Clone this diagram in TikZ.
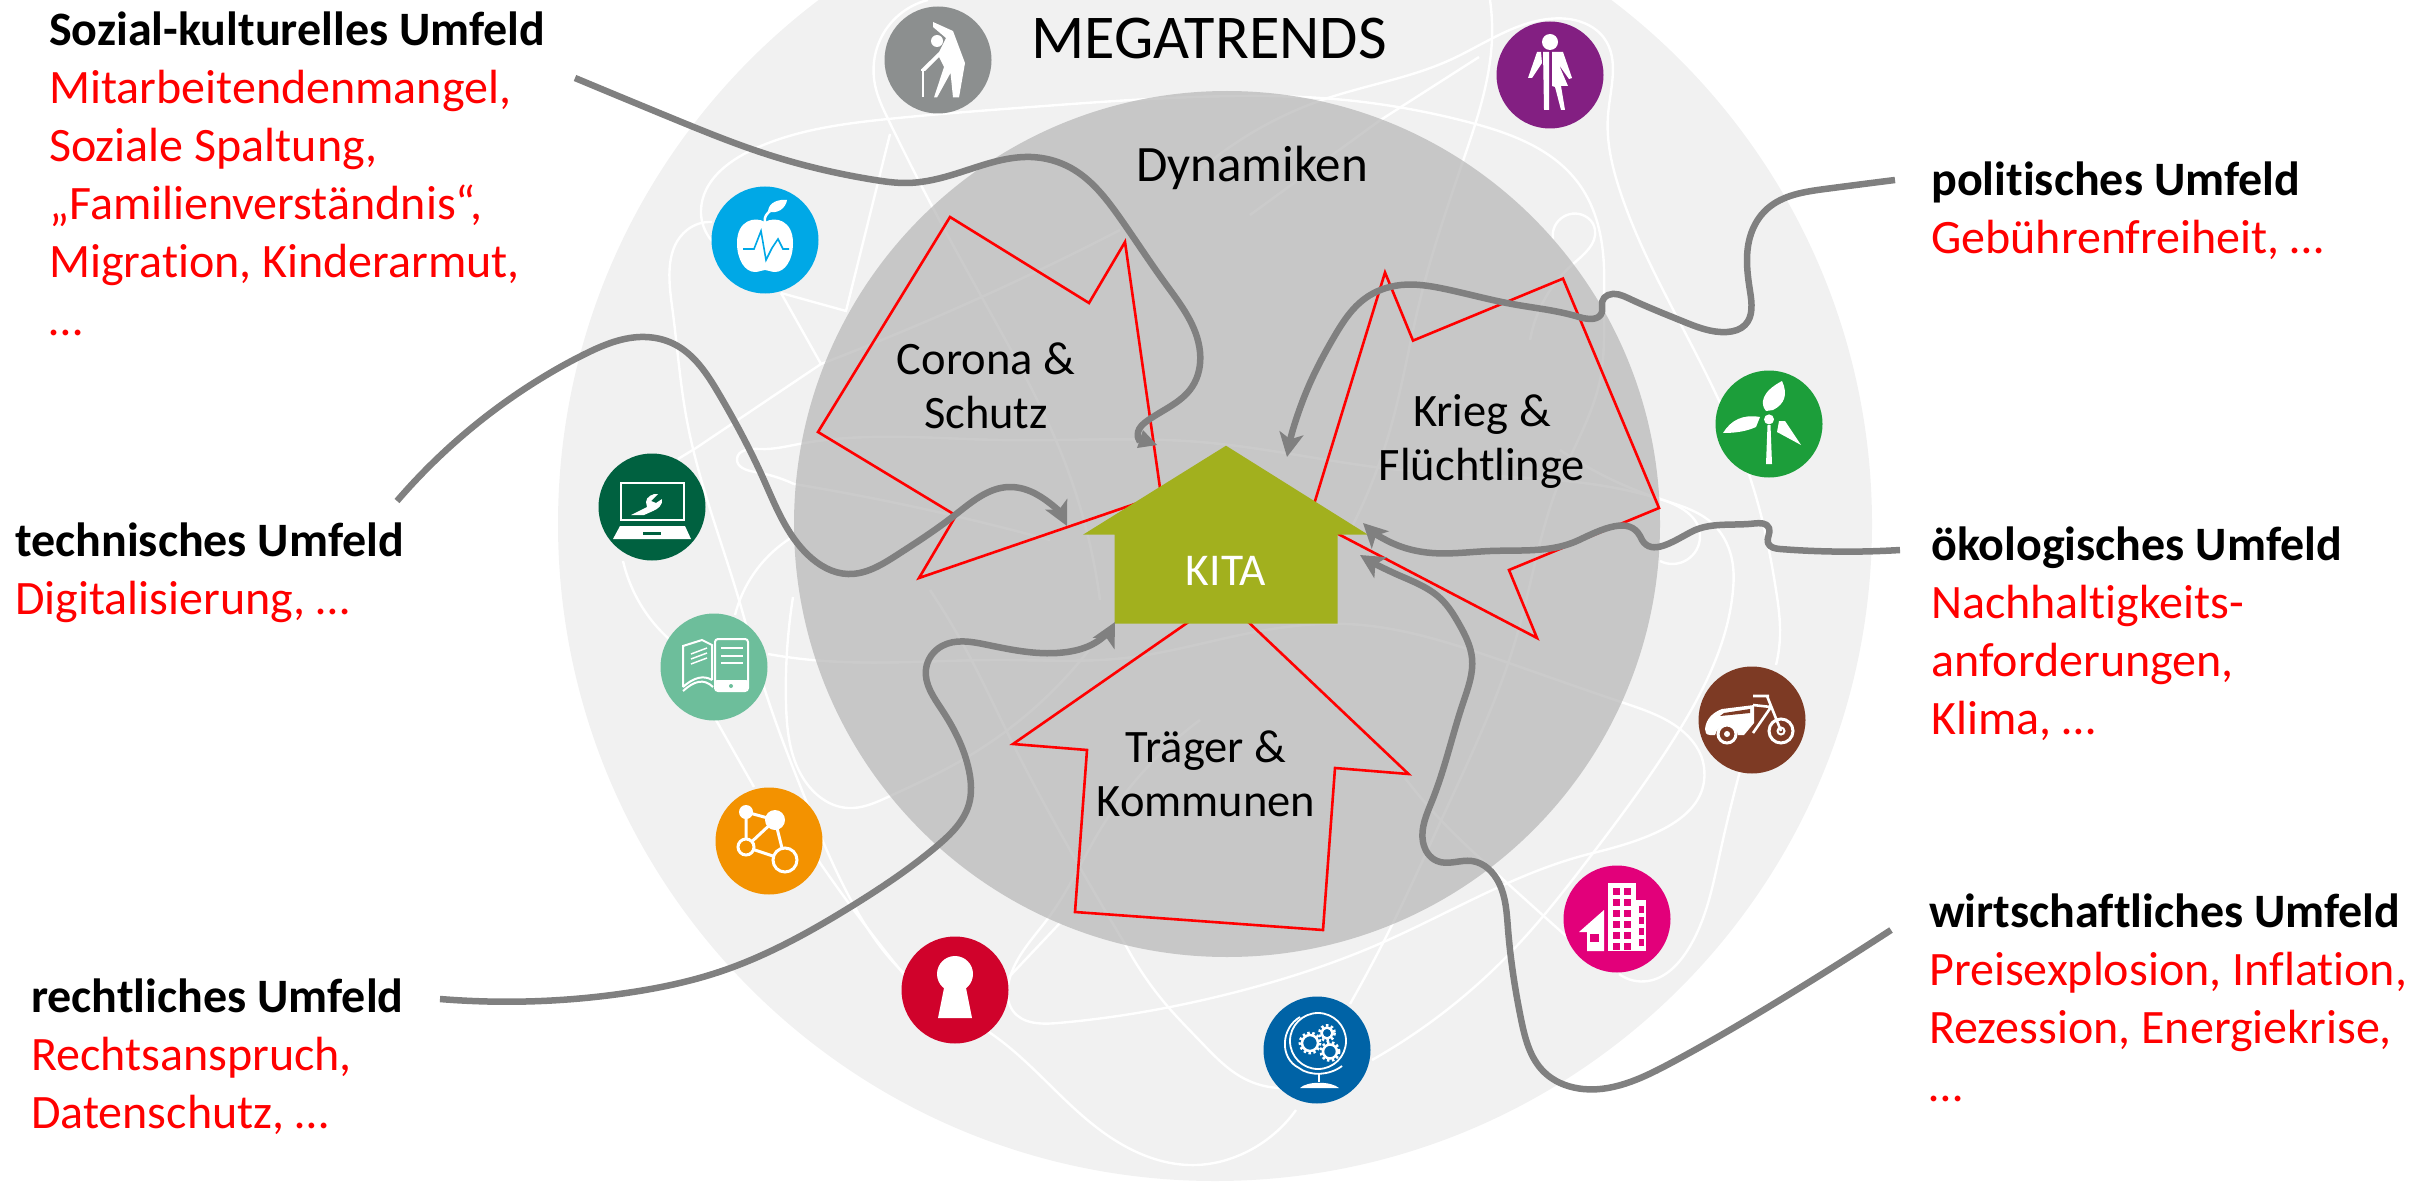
\documentclass[tikz,border=0pt]{standalone}
\usepackage{fontspec}
\setmainfont{Carlito}[Ligatures=NoCommon]
\usetikzlibrary{arrows.meta,hobby}
\definecolor{outerc}{HTML}{F1F1F1}
\definecolor{innerc}{HTML}{B6B6B6}
\definecolor{trendc}{HTML}{808080}
\definecolor{housec}{HTML}{A2B01E}
\definecolor{ielder}{HTML}{8C8F8F}
\definecolor{iapple}{HTML}{00A8E6}
\definecolor{ilaptop}{HTML}{006140}
\definecolor{ibook}{HTML}{6DBE9B}
\definecolor{inet}{HTML}{F39200}
\definecolor{ikey}{HTML}{D0022B}
\definecolor{iglobe}{HTML}{0063A6}
\definecolor{ibuild}{HTML}{E2007A}
\definecolor{ibike}{HTML}{7D3A24}
\definecolor{iwind}{HTML}{1C9E3A}
\definecolor{iperson}{HTML}{831F82}
\newcommand\wcurve[1]{\draw[whiteline] plot[hobby] coordinates {#1};}
\tikzset{
  whiteline/.style={white,line width=2.4pt},
  trend/.style={trendc,line width=6.5pt,line join=round},
  trendarrow/.style={trend,-{Stealth[length=24pt,width=24pt,inset=6pt]}},
  dynpoly/.style={draw=red,line width=2.6pt,line join=miter},
  umfeld/.style={anchor=north west,inner sep=0pt,align=left,font=\fontsize{48}{58}\selectfont},
  topic/.style={inner sep=0pt,align=center,font=\fontsize{46.5}{54}\selectfont},
  iconc/.style={circle,minimum size=107pt,inner sep=0pt},
}
\begin{document}
\begin{tikzpicture}[x=1pt,y=-1pt]
\useasboundingbox (0,0) rectangle (2419,1182);
\begin{scope}
\clip (0,0) rectangle (2419,1182);
\fill[outerc] (1215,524) circle[radius=657];
% white web of trend lines
\wcurve{(928,0) (880,40) (875,85) (888,119) (933,208) (1000,330) (1060,450) (1100,600)}
\wcurve{(712,241) (701,210) (754,149) (888,119) (1031,107) (1240,96) (1334,99) (1468,122) (1579,184) (1604,268) (1604,300) (1600,380) (1560,480) (1517,635) (1445,812) (1392,925) (1350,1004)}
\draw[whiteline] (781,293) -- (846,311) -- (890,134);
\draw[whiteline] (781,293) -- (821,364) -- (696,448) -- (678,459);
\wcurve{(821,364) (986,295) (1120,230)}
\wcurve{(712,222) (687,230) (672,306) (687,421) (739,600) (763,684) (803,793) (852,902) (906,975) (1000,1040) (1100,1130) (1196,1165) (1240,1155) (1296,1110)}
\wcurve{(623,561) (638,600) (669,639)}
\wcurve{(716,720) (754,787)}
\wcurve{(818,860) (865,925) (906,977)}
\wcurve{(794,484) (755,472) (737,459) (760,449) (799,444) (1000,440) (1200,442) (1400,470) (1660,499) (1700,536) (1660,561)}
\wcurve{(794,484) (942,513) (1050,540)}
\wcurve{(794,536) (741,597) (735,615)}
\wcurve{(793,597) (786,703) (803,778) (848,808) (888,797) (964,759) (1089,650)}
\wcurve{(768,654) (812,660) (1000,660) (1125,658) (1240,635) (1347,624) (1503,661) (1624,703) (1680,729) (1704,767) (1593,853) (1379,944) (1240,991) (1058,1023) (1013,1011) (1009,981) (1049,917) (1100,830) (1200,720)}
\draw[whiteline] (1060,923) -- (1009,977);
\wcurve{(1125,944) (1169,1008) (1200,1041) (1245,1079) (1280,1088)}
\wcurve{(1125,944) (1070,850) (1013,744) (964,646) (930,590)}
\wcurve{(1372,1060) (1512,951) (1593,853) (1680,729) (1733,590) (1733,566) (1713,524) (1660,499) (1560,450)}
\wcurve{(1405,778) (1437,816) (1495,872) (1566,936)}
\wcurve{(1619,974) (1648,981) (1687,951) (1720,853) (1740,771)}
\wcurve{(1776,665) (1780,635) (1776,590) (1754,490) (1691,344) (1620,191) (1608,115) (1604,38) (1584,23) (1548,19) (1450,60) (1325,99) (1200,170)}
\wcurve{(1490,0) (1492,38) (1463,161) (1420,300) (1390,430) (1345,540)}
\draw[whiteline] (1479,57) -- (1379,121) -- (1250,215);
\wcurve{(1553,239) (1588,218) (1595,230) (1573,264) (1530,340)}
% Dynamiken circle
\fill[innerc,fill opacity=0.7] (1227,524) circle[radius=433];
\end{scope}
% red arrows behind the house
\draw[dynpoly] (950,217) -- (1089,303) -- (1125,242) -- (1161,495) -- (919,578) -- (956,515.5) -- (818,432) -- cycle;
\draw[dynpoly] (1385,272.5) -- (1413,340.6) -- (1563,278.6) -- (1659,508) -- (1509,570) -- (1537,638) -- (1309.5,519) -- cycle;
\draw[dynpoly] (1223,598) -- (1013,744) -- (1087,750) -- (1075,912) -- (1323,930) -- (1335,768) -- (1408.5,774) -- cycle;
% house
\fill[housec] (1226,445.7) -- (1368,534.7) -- (1337.7,534.7) -- (1337.7,623.7) -- (1114.7,623.7) -- (1114.7,534.7) -- (1083,534.7) -- cycle;
\node[inner sep=0pt,text=white,font=\fontsize{45.5}{54}\selectfont] (kita) at (1226,571) {KITA};
% texts
\node[inner sep=0pt,font=\fontsize{62.3}{70}\selectfont] (mega) at (1209,39) {MEGATRENDS};
\node[topic,font=\fontsize{51}{54}\selectfont] (dyn) at (1252,168) {Dynamiken};
\node[topic] (corona) at (986,386) {Corona \&\\Schutz};
\node[topic] (krieg) at (1482,441) {Krieg \&\\Flüchtlinge};
\node[topic] (traeger) at (1206,774) {Träger \&\\Kommunen};
\node[umfeld] (sozial) at (49,12) {\textbf{Sozial-kulturelles Umfeld}\\\textcolor{red}{Mitarbeitendenmangel,}\\\textcolor{red}{Soziale Spaltung,}\\\textcolor{red}{„Familienverständnis“,}\\\textcolor{red}{Migration, Kinderarmut,}\\\textcolor{red}{…}};
\node[umfeld] (techn) at (15,523) {\textbf{technisches Umfeld}\\\textcolor{red}{Digitalisierung, …}};
\node[umfeld] (recht) at (31,979) {\textbf{rechtliches Umfeld}\\\textcolor{red}{Rechtsanspruch,}\\\textcolor{red}{Datenschutz, …}};
\node[umfeld] (polit) at (1931,162) {\textbf{politisches Umfeld}\\\textcolor{red}{Gebührenfreiheit, …}};
\node[umfeld] (oeko) at (1931,527) {\textbf{ökologisches Umfeld}\\\textcolor{red}{Nachhaltigkeits-}\\\textcolor{red}{anforderungen,}\\\textcolor{red}{Klima, …}};
\node[umfeld] (wirt) at (1929,894) {\textbf{wirtschaftliches Umfeld}\\\textcolor{red}{Preisexplosion, Inflation,}\\\textcolor{red}{Rezession, Energiekrise,}\\\textcolor{red}{…}};
% icons
\node[iconc,fill=ielder] (elder) at (938,60) {};
\begin{scope}[shift={(elder.center)}]
\fill[white] (-1,-19) circle[radius=6];
\fill[white] (-5,-38) -- (15,-29) -- (27,3) -- (21,37.5) -- (15,37.5) -- (12.5,13) -- (-1,37.5) -- (-4,37.5) -- (6,7) -- (1,-3) -- (-13,11) -- (-16.5,9) -- (1,-8) -- (8,-22) -- (-5,-33) -- cycle;
\draw[white,line width=2.5pt] (-17,10) -- (-13,10) (-15,10) -- (-15,37);
\end{scope}
\node[iconc,fill=iapple] (apple) at (765,240) {};
\begin{scope}[shift={(apple.center)}]
\fill[white] (0,-18) .. controls (10,-24) and (28,-20) .. (28,3) .. controls (28,20) and (20,32) .. (10,32) .. controls (5,32) and (4,30) .. (0,30) .. controls (-4,30) and (-5,32) .. (-10,32) .. controls (-20,32) and (-28,20) .. (-28,3) .. controls (-28,-20) and (-10,-24) .. (0,-18) -- cycle;
\draw[white,line width=2.5pt] (0,-18) .. controls (-1,-24) and (2,-26) .. (5,-29);
\fill[white] (3,-29) .. controls (4,-38) and (14,-41) .. (22,-40) .. controls (21,-32) and (12,-25) .. (3,-29) -- cycle;
\draw[iapple,line width=1.6pt] (-22,9) -- (-11,9) -- (-4,-9) -- (1,20) -- (7,8) -- (13,-1) -- (18,9) -- (24,9);
\end{scope}
\node[iconc,fill=ilaptop] (laptop) at (652,507) {};
\begin{scope}[shift={(laptop.center)}]
\draw[white,line width=2.4pt] (-31,-24) rectangle (32,13);
\fill[white] (-32,19) -- (33,19) -- (39,32) -- (-39,32) -- cycle;
\fill[ilaptop] (-9,25) rectangle (9,28);
\fill[white] (-21,8) -- (-8,8) -- (1,4) .. controls (6,2) and (11,-2) .. (10,-8) -- (4,-4) -- (-1,-6) -- (6,-13) .. controls (1,-14) and (-6,-10) .. (-6,-5) -- (-5,0) -- cycle;
\end{scope}
\node[iconc,fill=ibook] (book) at (714,667) {};
\begin{scope}[shift={(book.center)}]
\draw[white,line width=2pt] (-31,20) -- (-31,-21) -- (-12,-27) -- (-2,-22) -- (-2,13) (-31,20) .. controls (-20,10) and (-10,8) .. (-2,13);
\draw[white,line width=2pt] (-31,24) .. controls (-20,14) and (-10,11) .. (-1,20);
\draw[white,line width=1.5pt] (-23,-13) -- (-7,-19) (-23,-8) -- (-7,-14) (-23,-3) -- (-7,-9);
\draw[white,line width=2pt,rounded corners=3pt] (1,-28) rectangle (34,24);
\fill[white,rounded corners=2pt] (1,13) rectangle (34,24);
\fill[ibook] (17,19) circle[radius=2];
\draw[white,line width=2pt] (7,-19) -- (29,-19) (7,-11) -- (29,-11) (7,-4) -- (29,-4);
\end{scope}
\node[iconc,fill=inet] (net) at (769,841) {};
\begin{scope}[shift={(net.center)}]
\draw[white,line width=3pt] (-23,-29) -- (6,-21) -- (-23,6) -- cycle (6,-21) -- (16,19) -- (-23,6);
\fill[white] (-23,-29) circle[radius=7] (6,-21) circle[radius=10];
\filldraw[fill=inet,draw=white,line width=3pt] (-23,6) circle[radius=8] (16,19) circle[radius=12];
\end{scope}
\node[iconc,fill=ikey] (key) at (955,990) {};
\begin{scope}[shift={(key.center)}]
\fill[white] (0,-16) circle[radius=18];
\fill[white] (-11,-2) -- (11,-2) -- (17,28) -- (-17,28) -- cycle;
\end{scope}
\node[iconc,fill=iglobe] (globe) at (1317,1050) {};
\begin{scope}[shift={(globe.center)}]
\draw[white,line width=1.8pt] (1,-9) circle[radius=28];
\draw[white,line width=1.8pt] (-17,-33) .. controls (-36,-22) and (-38,8) .. (-18,18) .. controls (-8,26) and (12,26) .. (25,16);
\draw[white,line width=2.5pt] (2,24) -- (2,32);
\fill[white] (-17,38) .. controls (-10,31) and (14,31) .. (22,38) -- cycle;
\foreach \gx/\gy/\gr in {-7/-7/8,10/-17/5.5,13/1.5/7}{
  \draw[white,line width=2.5pt] (\gx,\gy) circle[radius=\gr];
  \draw[white,line width=2.5pt,dash pattern=on 2.5pt off 2.5pt] (\gx,\gy) circle[radius=\gr+2.2];
}
\end{scope}
\node[iconc,fill=ibuild] (build) at (1617,919) {};
\begin{scope}[shift={(build.center)}]
\fill[white] (-9,-36) rectangle (19,32);
\fill[white] (19,-19) rectangle (29,32);
\fill[white] (-13,-9) -- (-38,13) -- (-30,13) -- (-30,32) -- (-13,32) -- cycle;
\fill[ibuild] (-27,15) rectangle (-18,23);
\foreach \wy in {-31,-20,-9,2,13,24}{
  \fill[ibuild] (-4,\wy) rectangle (3,\wy+7);
  \fill[ibuild] (7,\wy) rectangle (14,\wy+7);
}
\foreach \wy in {-13,-2,9,20}{
  \fill[ibuild] (22,\wy) rectangle (27,\wy+7);
}
\end{scope}
\node[iconc,fill=ibike] (bike) at (1752,720) {};
\begin{scope}[shift={(bike.center)}]
\fill[white] (-47,9) .. controls (-46,-2) and (-38,-8) .. (-30,-11) -- (2,-15) -- (2,3) -- (-8,15) -- (-14,15) .. controls (-16,2) and (-34,2) .. (-37,15) -- (-42,15) .. controls (-46,15) and (-47,12) .. (-47,9) -- cycle;
\fill[ibike] (-28,-7) -- (-2,-11) -- (-2,-7) -- (-32,-4) -- cycle;
\draw[white,line width=2.6pt] (1,-24) -- (17,-24) (15,-24) -- (29,11) (1,13) -- (19,-13) (1,-15) -- (19,-13);
\draw[white,line width=3pt] (29,11) circle[radius=12];
\draw[white,line width=2pt] (29,11) circle[radius=3.5];
\draw[white,line width=3pt] (-25,14) circle[radius=9];
\fill[white] (-25,14) circle[radius=3];
\end{scope}
\node[iconc,fill=iwind] (wind) at (1769,424) {};
\begin{scope}[shift={(wind.center)}]
\fill[white] (0,-4.6) circle[radius=5];
\fill[white] (-1.5,1) -- (1.5,1) -- (3,40) -- (-3,40) -- cycle;
\fill[white] (-3,-13) .. controls (-9,-20) and (-8,-32) .. (13,-43) .. controls (19,-30) and (16,-20) .. (4,-14) -- cycle;
\fill[white] (-46,9) .. controls (-38,-4) and (-26,-10) .. (-9,-7) -- (-13,3) .. controls (-22,7) and (-32,9) .. (-46,9) -- cycle;
\fill[white] (10,-3) -- (16,-3) -- (32,21) -- (8,8) -- cycle;
\end{scope}
\node[iconc,fill=iperson] (person) at (1550,75) {};
\begin{scope}[shift={(person.center)}]
\fill[white] (0,-33) circle[radius=8];
\fill[white] (-7,-23) -- (-1,-23) -- (-1,35) -- (-6,35) -- cycle;
\fill[white] (-9,-23) -- (-13,-23) -- (-22,3) -- (-18,3) -- (-8,-12) -- cycle;
\fill[white] (2,-23) -- (13,-23) -- (22,3) -- (19,4) -- (9,-10) -- (18,11) -- (11,11) -- (15,35) -- (11,35) -- (5,12) -- (2,11) -- cycle;
\end{scope}
% connectors: from each environment towards the KITA
\coordinate (sozStart) at (575,78);
\coordinate (tecStart) at (397,501);
\coordinate (polStart) at (1895,180);
\coordinate (oekStart) at (1900,550);
\coordinate (wirStart) at (1891,930);
\coordinate (recStart) at (440,999);
\coordinate (tecTip) at (1067,526);
\coordinate (polTip) at (1287,457);
\coordinate (oekTip) at (1363,523);
\coordinate (wirTip) at (1360,555);
\coordinate (recTip) at (1115,622);
\draw[trend] plot[hobby] coordinates {(sozStart) (674,119) (763,153) (875,180) (906,183) (955,174) (1031,157) (1071,168) (1120,218) (1165,283) (1200,352) (1192,387) (1147,421) (1138,432) (1140,442)};
\fill[trendc] (1137,448) -- (1157,445) -- (1143,430) -- cycle;
\draw[trendarrow] plot[hobby] coordinates {(tecStart) (540,379) (585,354) (640,337) (674,344) (719,394) (763,478) (808,555) (848,574) (897,555) (955,515) (1009,487) (1036,494) (tecTip)};
\draw[trendarrow] plot[hobby] coordinates {(polStart) (1825,189) (1767,209) (1750,237) (1750,291) (1745,325) (1727,332) (1682,321) (1629,298.5) (1608,295) (1602,302) (1602,312) (1579,317) (1512,304) (1445,289) (1401,285) (1365,298.5) (1334,337) (1307,390) (polTip)};
\draw[trendarrow] plot[hobby] coordinates {(oekStart) (1780,549) (1768,543) (1769,528) (1754,523.5) (1691,532) (1642,540) (1640,536) (1579,540) (1490,551) (1432,553) (1392,543) (oekTip)};
\draw[trendarrow] plot[hobby] coordinates {(wirStart) (1780,1000) (1669,1064) (1579,1088.5) (1544,1072) (1521,1019) (1508,929) (1499,883) (1472,861) (1437,861) (1423,842) (1432,801) (1463,703) (1472,658) (1459,624) (1441,599) (1396,574) (wirTip)};
\draw[trendarrow] plot[hobby] coordinates {(recStart) (629,992.6) (719,972) (852,906) (937,846) (969,804) (969,770.6) (942,710) (926,669) (942,646) (986,644.6) (1067,652) (1098,641) (recTip)};
\end{tikzpicture}
\end{document}
